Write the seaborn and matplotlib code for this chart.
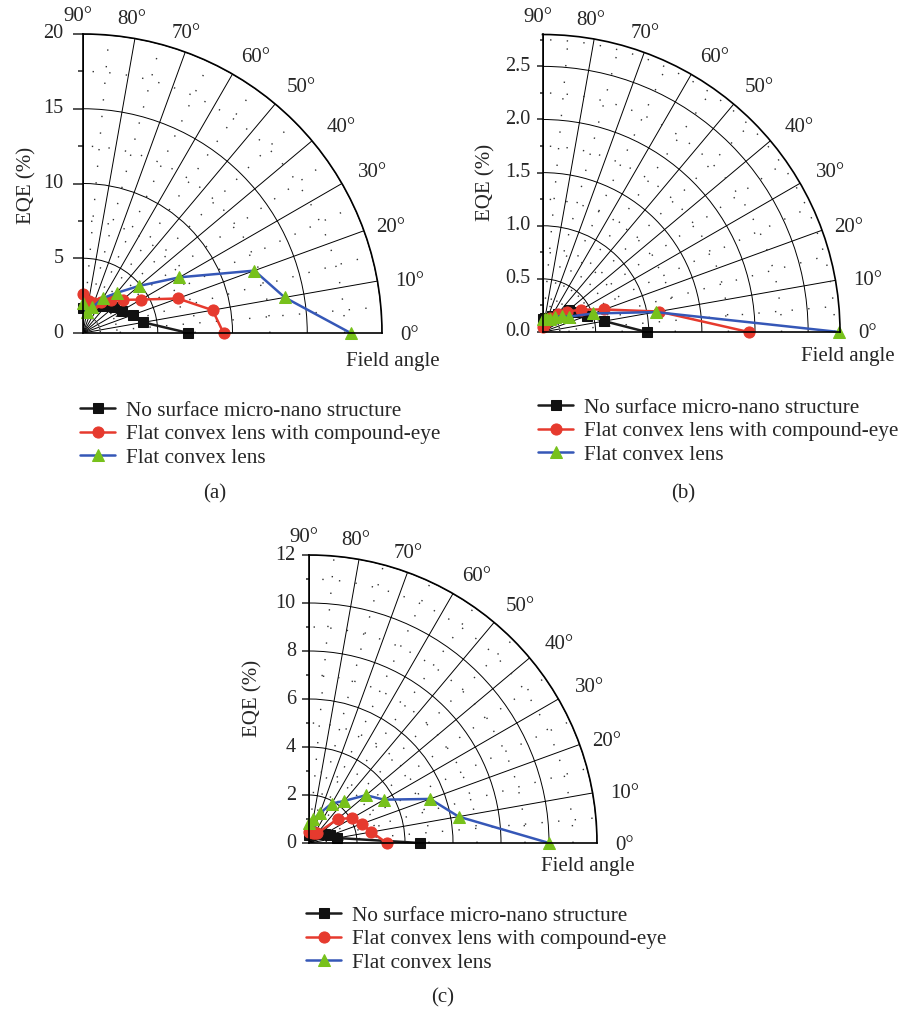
import numpy as np
import pandas as pd
import matplotlib
matplotlib.use("Agg")
import matplotlib.pyplot as plt
from matplotlib.ticker import FixedLocator, MultipleLocator, FormatStrFormatter
from matplotlib.transforms import ScaledTranslation
import seaborn as sns

# Field angle (degrees) shared by every series
field_angle = [0, 10, 20, 30, 40, 50, 60, 70, 80, 90]

series_names = [
    "No surface micro-nano structure",
    "Flat convex lens with compound-eye",
    "Flat convex lens",
]

# EQE (%) — panel (a)
eqe_a_plain = [7.05, 4.1, 3.55, 3.0, 2.7, 2.35, 2.1, 1.9, 1.8, 1.7]
eqe_a_compound = [9.4, 8.8, 6.75, 4.47, 3.45, 2.9, 2.4, 2.15, 2.15, 2.6]
eqe_a_lens = [17.9, 13.7, 12.2, 7.45, 4.9, 3.5, 2.7, 1.85, 1.4, 2.0]

# EQE (%) — panel (b)
eqe_b_plain = [0.98, 0.59, 0.45, 0.38, 0.32, 0.22, 0.17, 0.14, 0.13, 0.12]
eqe_b_compound = [1.94, 1.11, 0.62, 0.42, 0.3, 0.22, 0.15, 0.1, 0.07, 0.05]
eqe_b_lens = [2.79, 1.08, 0.51, 0.29, 0.24, 0.18, 0.14, 0.13, 0.12, 0.12]

# EQE (%) — panel (c)
eqe_c_plain = [4.63, 1.2, 0.95, 0.75, 0.6, 0.5, 0.42, 0.38, 0.35, 0.33]
eqe_c_compound = [3.24, 2.64, 2.34, 2.07, 1.56, 0.52, 0.48, 0.45, 0.45, 0.45]
eqe_c_lens = [10.0, 6.33, 5.37, 3.61, 3.1, 2.29, 1.9, 1.32, 1.0, 0.85]

panel_labels = ["(a)", "(b)", "(c)"]
r_max = [20, 2.8, 12]
r_major = [5, 0.5, 2]
r_minor = [2.5, 0.25, 1]
r_fmt = ["%d", "%.1f", "%d"]

sns.set_style("white")
plt.rcParams["font.family"] = ["Liberation Serif", "DejaVu Serif"]

W, H = 898, 1015
fig = plt.figure(figsize=(W / 100, H / 100), dpi=100)

styles = [
    dict(color="#1c1c1c", marker="s", markerfacecolor="#111111",
         markeredgecolor="#111111", markersize=6.5),
    dict(color="#e63a2e", marker="o", markerfacecolor="#e63a2e",
         markeredgecolor="#e63a2e", markersize=8),
    dict(color="#3557b7", marker="^", markerfacecolor="#77c11b",
         markeredgecolor="#77c11b", markersize=9),
]

# nudges (px right, px down) for the angle labels 0°..90°
angle_label_nudge = [(1, 2), (6, 5), (2, 6), (8, 2), (9, 4),
                     (9, 4), (10, 6), (-8, 6), (-8, 7), (-5, 9)]


def quarter_axes(ox, oy, rad):
    return fig.add_axes([ox / W, 1 - oy / H, rad / W, rad / H],
                        projection="polar")


def style_axes(ax, rmax, major, minor, fmt, tick_len, tick_pad):
    ax.set_thetamin(0)
    ax.set_thetamax(90)
    ax.set_ylim(0, rmax)
    ax.xaxis.set_major_locator(FixedLocator(np.deg2rad(np.arange(0, 91, 10))))
    ax.xaxis.set_minor_locator(FixedLocator(np.deg2rad(np.arange(5, 90, 10))))
    ax.yaxis.set_major_locator(MultipleLocator(major))
    ax.yaxis.set_minor_locator(MultipleLocator(minor))
    ax.yaxis.set_major_formatter(FormatStrFormatter(fmt))
    ax.grid(True, which="major", color="black", lw=0.7, ls="-")
    ax.grid(True, which="minor", color="#333333", lw=1.0, ls=(0, (1, 11)))
    ax.tick_params(axis="y", which="both", left=False, labelleft=False,
                   right=True, labelright=True, direction="out",
                   width=1.1, labelsize=14.5, pad=tick_pad)
    ax.tick_params(axis="y", which="major", length=tick_len)
    ax.tick_params(axis="y", which="minor", length=tick_len / 2)
    ax.tick_params(axis="x", which="major", length=0, labelsize=15, pad=12)
    ax.tick_params(axis="x", which="minor", length=5, width=1.1,
                   direction="in")
    for sp in ax.spines.values():
        sp.set_linewidth(1.2)
        sp.set_color("black")
    ticks = ax.xaxis.get_major_ticks(len(field_angle))
    for tick, (dx, dy) in zip(ticks, angle_label_nudge):
        tick.label1.set_transform(
            tick.label1.get_transform()
            + ScaledTranslation(dx / 100, -dy / 100, fig.dpi_scale_trans))


panels = [
    dict(origin=(83, 333, 299), data=[eqe_a_plain, eqe_a_compound, eqe_a_lens],
         ticks=(7, 7), ylab=(27, 185), xlab=(393, 362), leg=(80, 401),
         cap=(215, 494)),
    dict(origin=(542.5, 332, 297.5), data=[eqe_b_plain, eqe_b_compound, eqe_b_lens],
         ticks=(4, 4.5), ylab=(486, 182), xlab=(848, 357), leg=(538, 398),
         cap=(683, 494)),
    dict(origin=(309, 843, 288), data=[eqe_c_plain, eqe_c_compound, eqe_c_lens],
         ticks=(5, 4.5), ylab=(253, 698), xlab=(588, 867), leg=(306, 906),
         cap=(443, 998)),
]

for i, p in enumerate(panels):
    ax = quarter_axes(*p["origin"])
    theta = np.deg2rad(field_angle)
    for name, vals, st in zip(series_names, p["data"], styles):
        df = pd.DataFrame({"theta": theta, "eqe": vals})
        sns.lineplot(data=df, x="theta", y="eqe", ax=ax, sort=False,
                     linewidth=1.8, label=name, clip_on=False, **st)
    ax.set_xlabel("")
    ax.set_ylabel("")
    style_axes(ax, r_max[i], r_major[i], r_minor[i], r_fmt[i], *p["ticks"])
    ax.legend(loc="upper left", bbox_to_anchor=(p["leg"][0] / W, 1 - p["leg"][1] / H),
              bbox_transform=fig.transFigure, frameon=False, fontsize=15.3,
              handlelength=1.65, handletextpad=0.5, labelspacing=0.17,
              borderaxespad=0, borderpad=0)
    fig.text(p["ylab"][0] / W, 1 - p["ylab"][1] / H, "EQE (%)", rotation=90,
             ha="center", va="center", fontsize=15)
    fig.text(p["xlab"][0] / W, 1 - p["xlab"][1] / H, "Field angle",
             ha="center", va="center", fontsize=15)
    fig.text(p["cap"][0] / W, 1 - p["cap"][1] / H, panel_labels[i],
             ha="center", va="center", fontsize=15)

fig.savefig("out.png", dpi=100)
